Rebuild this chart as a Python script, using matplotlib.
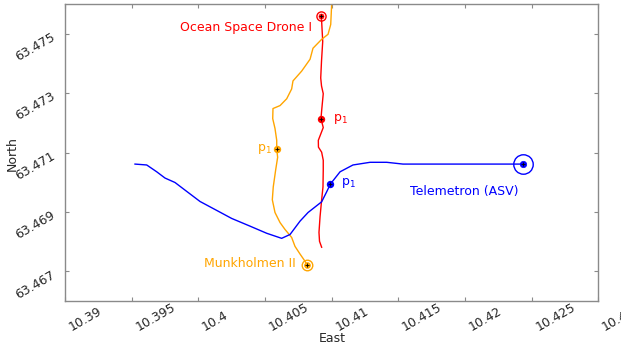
import matplotlib
matplotlib.use("Agg")
import matplotlib.pyplot as plt

# Vessel tracks (longitude East, latitude North)
drone_lon = [10.40925, 10.40909, 10.40905, 10.40913, 10.40925, 10.40935, 10.40937,
             10.40937, 10.40925, 10.40901, 10.40900, 10.40937, 10.40920, 10.40925,
             10.40937, 10.40924, 10.40918, 10.40924, 10.40933, 10.40925, 10.40920]
drone_lat = [63.46781, 63.46801, 63.46831, 63.46884, 63.46941, 63.46984, 63.47041,
             63.47074, 63.47101, 63.47118, 63.47141, 63.47184, 63.47214, 63.47241,
             63.47298, 63.47324, 63.47351, 63.47408, 63.47474, 63.47541, 63.47561]

munk_lon = [10.41006, 10.41000, 10.40993, 10.40973, 10.40925, 10.40860, 10.40838,
            10.40775, 10.40710, 10.40700, 10.40663, 10.40613, 10.40560, 10.40558,
            10.40575, 10.40588, 10.40588, 10.40595, 10.40580, 10.40562, 10.40555,
            10.40575, 10.40613, 10.40650, 10.40700, 10.40725, 10.40763, 10.40800,
            10.40817]
munk_lat = [63.47625, 63.47598, 63.47531, 63.47498, 63.47481, 63.47451, 63.47414,
            63.47374, 63.47341, 63.47314, 63.47281, 63.47258, 63.47248, 63.47214,
            63.47181, 63.47141, 63.47111, 63.47084, 63.47041, 63.46984, 63.46941,
            63.46898, 63.46864, 63.46841, 63.46814, 63.46784, 63.46758, 63.46734,
            63.46721]

tele_lon = [10.39525, 10.39613, 10.39688, 10.39750, 10.39825, 10.39913, 10.40013,
            10.40138, 10.40250, 10.40388, 10.40513, 10.40625, 10.40688, 10.40763,
            10.40823, 10.40925, 10.40963, 10.40991, 10.41063, 10.41160, 10.41288,
            10.41413, 10.41535, 10.41788, 10.42163, 10.42360, 10.42437]
tele_lat = [63.47061, 63.47058, 63.47035, 63.47014, 63.46999, 63.46969, 63.46935,
            63.46905, 63.46878, 63.46852, 63.46828, 63.46811, 63.46824, 63.46869,
            63.46898, 63.46934, 63.46968, 63.46994, 63.47035, 63.47058, 63.47067,
            63.47067, 63.47061, 63.47061, 63.47061, 63.47061, 63.47061]

# Point p1 on each track
p1_drone = (10.40920, 63.47214)
p1_munk = (10.40588, 63.47111)
p1_tele = (10.40991, 63.46994)

names = ["Ocean Space Drone I", "Munkholmen II", "Telemetron (ASV)"]

x_ticks = [10.39, 10.395, 10.40, 10.405, 10.41, 10.415, 10.42, 10.425, 10.43]
x_tick_labels = ["10.39", "10.395", "10.4", "10.405", "10.41", "10.415", "10.42", "10.425", "10.43"]
y_ticks = [63.467, 63.469, 63.471, 63.473, 63.475]
y_tick_labels = ["63.467", "63.469", "63.471", "63.473", "63.475"]

RED = "#ff0000"
ORANGE = "#ffa500"
BLUE = "#0000ff"
FRAME = "#8a8a8a"
TXT = "#262626"

plt.rcParams["font.family"] = ["DejaVu Sans"]
plt.rcParams["font.size"] = 9

fig = plt.figure(figsize=(6.21, 3.5), dpi=100)
W, H = 621, 350
ax = fig.add_axes([65 / W, 49 / H, (598.3 - 65) / W, (301 - 4) / H])
ax.set_xlim(10.39, 10.43)
ax.set_ylim(63.466, 63.476)

lw = 1.0
ax.plot(drone_lon, drone_lat, color=RED, lw=lw)
ax.plot(munk_lon, munk_lat, color=ORANGE, lw=lw)
ax.plot(tele_lon, tele_lat, color=BLUE, lw=lw)


def end_marker(lon, lat, color, ring, dot):
    ax.plot(lon, lat, marker="o", ms=ring, mfc="none", mec=color, mew=1.0, ls="none")
    ax.plot(lon, lat, marker="o", ms=dot, mfc=color, mec=color, mew=0.5, ls="none")
    ax.plot(lon, lat, marker="+", ms=3.0, mec="black", mew=0.6, ls="none")


end_marker(drone_lon[-1], drone_lat[-1], RED, 6.6, 3.6)
end_marker(munk_lon[-1], munk_lat[-1], ORANGE, 7.6, 4.2)
end_marker(tele_lon[-1], tele_lat[-1], BLUE, 14.0, 4.6)


def p1_marker(pt, color):
    ax.plot(pt[0], pt[1], marker="o", ms=4.3, mfc=color, mec=color, ls="none")
    ax.plot(pt[0], pt[1], marker="+", ms=3.0, mec="black", mew=0.6, ls="none")


p1_marker(p1_drone, RED)
p1_marker(p1_munk, ORANGE)
p1_marker(p1_tele, BLUE)

p1_text = r"$\mathregular{p_1}$"
ax.annotate(names[0], (drone_lon[-1], drone_lat[-1]), xytext=(-9, -12),
            textcoords="offset pixels", ha="right", va="center", color=RED, fontsize=9)
ax.annotate(names[1], (munk_lon[-1], munk_lat[-1]), xytext=(-12, 2),
            textcoords="offset pixels", ha="right", va="center", color=ORANGE, fontsize=9)
ax.annotate(names[2], (tele_lon[-1], tele_lat[-1]), xytext=(-5, -27),
            textcoords="offset pixels", ha="right", va="center", color=BLUE, fontsize=9)
ax.annotate(p1_text, p1_drone, xytext=(12, 0), textcoords="offset pixels",
            ha="left", va="center", color=RED, fontsize=9)
ax.annotate(p1_text, p1_munk, xytext=(-5, 0), textcoords="offset pixels",
            ha="right", va="center", color=ORANGE, fontsize=9)
ax.annotate(p1_text, p1_tele, xytext=(11, 1), textcoords="offset pixels",
            ha="left", va="center", color=BLUE, fontsize=9)

# Frame and inward ticks on all sides
for s in ax.spines.values():
    s.set_color(FRAME)
    s.set_linewidth(1.0)
ax.set_xticks(x_ticks)
ax.set_yticks(y_ticks)
ax.tick_params(direction="in", length=2.8, width=0.8, color=FRAME,
               top=True, right=True, labelbottom=False, labelleft=False)

# Rotated tick labels
for t, lab in zip(x_ticks, x_tick_labels):
    ax.annotate(lab, (t, 0), xycoords=("data", "axes fraction"), xytext=(5, -26.5),
                textcoords="offset pixels", rotation=30, rotation_mode="anchor",
                ha="left", va="center", color=TXT, fontsize=9, annotation_clip=False)
for t, lab in zip(y_ticks, y_tick_labels):
    ax.annotate(lab, (0, t), xycoords=("axes fraction", "data"), xytext=(-11, -2.5),
                textcoords="offset pixels", rotation=30, rotation_mode="anchor",
                ha="right", va="center", color=TXT, fontsize=9, annotation_clip=False)

fig.text(332 / W, 1 - 338 / H, "East", ha="center", va="center", color=TXT, fontsize=9)
fig.text(12.5 / W, 1 - 154 / H, "North", ha="center", va="center", rotation=90,
         color=TXT, fontsize=9)

fig.savefig("out.png", dpi=100, facecolor="white")
